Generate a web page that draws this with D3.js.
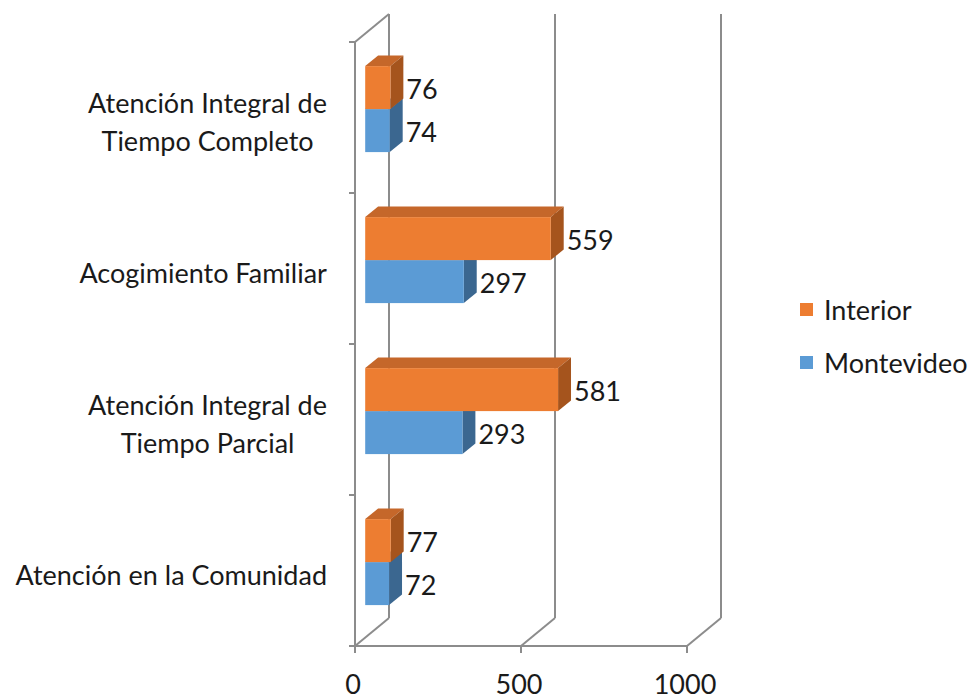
<!DOCTYPE html>
<html>
<head>
<meta charset="utf-8">
<script src="https://cdn.jsdelivr.net/npm/d3@7"></script>
<style>
  html, body { margin: 0; padding: 0; background: #fff; }
  svg text { font-family: Lato, "Open Sans", sans-serif; fill: #1a1a1a; }
</style>
</head>
<body>
<svg id="chart" width="972" height="700"></svg>
<script>
const categories = [
  ["Atención Integral de", "Tiempo Completo"],
  ["Acogimiento Familiar"],
  ["Atención Integral de", "Tiempo Parcial"],
  ["Atención en la Comunidad"]
];
const seriesNames = ["Interior", "Montevideo"];
const interiorValues = [76, 559, 581, 77];
const montevideoValues = [74, 297, 293, 72];
const xTicks = [0, 500, 1000];

const FONT = 27;
const svg = d3.select("#chart");

// 3D projection settings
const DX = 34, DY = -28;      // full depth offset
const F0 = 0.30, F1 = 0.68;   // bar depth span (fraction)

const x = d3.scaleLinear().domain([0, 1000]).range([355, 687]);
const catKeys = categories.map((c, i) => i);
const y = d3.scaleBand().domain(catKeys).range([42, 646]).padding(0);
const ySub = d3.scaleBand().domain(seriesNames).range([0, y.bandwidth()])
  .paddingInner(0).paddingOuter(0.756);

const colors = {
  Interior:   { front: "#ED7D31", top: "#C5672A", side: "#A5541D" },
  Montevideo: { front: "#5B9BD5", top: "#4A80B3", side: "#3B6790" }
};

const gridColor = "#8c8c8c";
const g = svg.append("g");

// Back wall gridlines
xTicks.forEach(t => {
  g.append("line")
    .attr("x1", x(t) + DX).attr("x2", x(t) + DX)
    .attr("y1", 42 + DY).attr("y2", 646 + DY)
    .attr("stroke", gridColor).attr("stroke-width", 2);
  // floor diagonal
  g.append("line")
    .attr("x1", x(t)).attr("y1", 646)
    .attr("x2", x(t) + DX).attr("y2", 646 + DY)
    .attr("stroke", gridColor).attr("stroke-width", 2);
});
// Left wall top diagonal
g.append("line")
  .attr("x1", x(0)).attr("y1", 42)
  .attr("x2", x(0) + DX).attr("y2", 42 + DY)
  .attr("stroke", gridColor).attr("stroke-width", 2);
// Left (category) axis front line
g.append("line")
  .attr("x1", x(0)).attr("x2", x(0))
  .attr("y1", 42).attr("y2", 646)
  .attr("stroke", gridColor).attr("stroke-width", 2);
// Category tick marks
const catBounds = catKeys.map(k => y(k)).concat([y(catKeys[catKeys.length - 1]) + y.bandwidth()]);
catBounds.forEach(b => {
  g.append("line")
    .attr("x1", x(0) - 6).attr("x2", x(0))
    .attr("y1", b).attr("y2", b)
    .attr("stroke", gridColor).attr("stroke-width", 2);
});
// Value axis front line
g.append("line")
  .attr("x1", x(0)).attr("x2", x(1000))
  .attr("y1", 646).attr("y2", 646)
  .attr("stroke", gridColor).attr("stroke-width", 2);
xTicks.forEach(t => {
  g.append("line")
    .attr("x1", x(t)).attr("x2", x(t))
    .attr("y1", 646).attr("y2", 653)
    .attr("stroke", gridColor).attr("stroke-width", 2);
  g.append("text")
    .attr("x", x(t) - 2).attr("y", 683)
    .attr("text-anchor", "middle")
    .attr("dominant-baseline", "central")
    .attr("font-size", FONT)
    .text(t);
});

// Bars: draw Montevideo first (lower) then Interior
const data = [];
catKeys.forEach(i => {
  data.push({ cat: i, series: "Montevideo", value: montevideoValues[i] });
  data.push({ cat: i, series: "Interior", value: interiorValues[i] });
});

const ox0 = DX * F0, oy0 = DY * F0;
const ddx = DX * (F1 - F0), ddy = DY * (F1 - F0);

data.forEach(d => {
  const c = colors[d.series];
  const xl = x(0) + ox0;
  const xr = x(d.value) + ox0;
  const yt = y(d.cat) + ySub(d.series) + oy0;
  const yb = yt + ySub.bandwidth();
  const bar = g.append("g");
  // top face
  bar.append("path")
    .attr("d", `M${xl},${yt}L${xl + ddx},${yt + ddy}L${xr + ddx},${yt + ddy}L${xr},${yt}Z`)
    .attr("fill", c.top);
  // side face
  bar.append("path")
    .attr("d", `M${xr},${yt}L${xr + ddx},${yt + ddy}L${xr + ddx},${yb + ddy}L${xr},${yb}Z`)
    .attr("fill", c.side);
  // front face
  bar.append("rect")
    .attr("x", xl).attr("y", yt)
    .attr("width", xr - xl).attr("height", yb - yt)
    .attr("fill", c.front);
  // data label
  g.append("text")
    .attr("x", x(d.value) + DX * F1 + 3)
    .attr("y", (yt + yb) / 2 + 1)
    .attr("dominant-baseline", "central")
    .attr("font-size", FONT)
    .text(d.value);
});

// Category labels
categories.forEach((lines, i) => {
  const cy = y(i) + y.bandwidth() / 2 + 4;
  const lh = 38;
  const t = svg.append("text")
    .attr("text-anchor", "middle")
    .attr("font-size", FONT);
  lines.forEach((ln, j) => {
    t.append("tspan")
      .attr("x", 0)
      .attr("y", cy + (j - (lines.length - 1) / 2) * lh)
      .attr("dominant-baseline", "central")
      .text(ln);
  });
  // right-align the block at x=327
  const w = t.node().getBBox().width;
  t.attr("transform", `translate(${327 - w / 2},0)`);
});

// Legend
const legend = svg.append("g");
seriesNames.forEach((s, i) => {
  const ly = 309 + i * 53;
  legend.append("rect")
    .attr("x", 800).attr("y", ly - 6)
    .attr("width", 13).attr("height", 13)
    .attr("fill", colors[s].front);
  legend.append("text")
    .attr("x", 824).attr("y", ly)
    .attr("dominant-baseline", "central")
    .attr("font-size", FONT)
    .text(s);
});
</script>
</body>
</html>
